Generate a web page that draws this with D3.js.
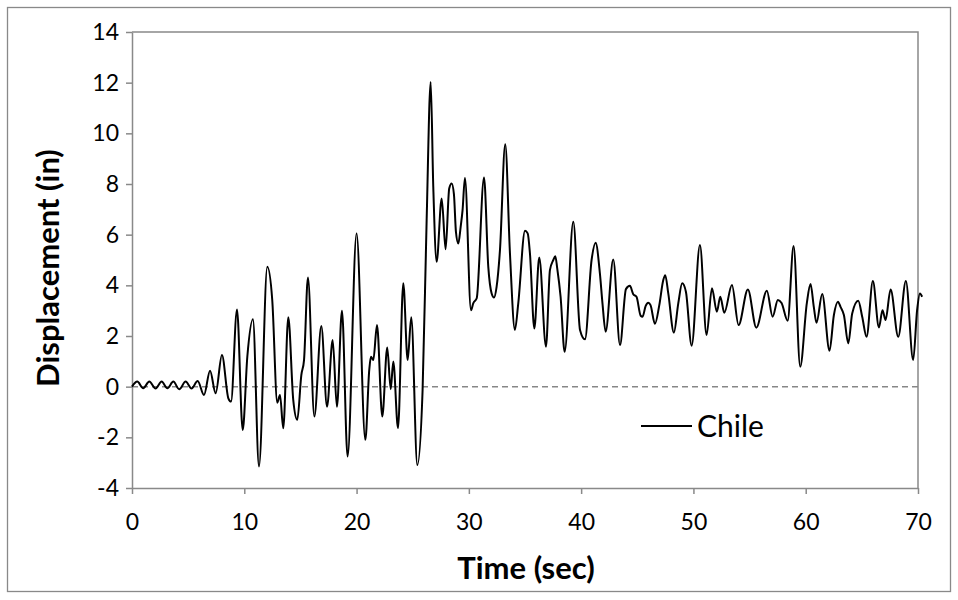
<!DOCTYPE html>
<html><head><meta charset="utf-8">
<script src="https://cdn.jsdelivr.net/npm/d3@7"></script>
<style>body{margin:0;background:#fff}svg{display:block}</style>
</head><body>
<script>
const times = [0,0.47,1.0,1.54,2.1,2.64,3.15,3.68,4.2,4.78,5.3,5.85,6.41,6.95,7.45,8.01,8.58,8.82,9.35,9.86,10.27,10.77,11.31,12.05,12.49,12.94,13.18,13.47,13.92,14.36,14.72,15.08,15.32,15.67,16.24,16.86,17.37,17.87,18.25,18.7,19.2,20.0,20.78,21.13,21.28,21.49,21.82,22.29,22.73,23.04,23.27,23.69,24.16,24.55,24.87,25.41,25.88,26.24,26.6,26.83,27.13,27.58,27.93,28.25,28.47,28.67,28.85,29.06,29.27,29.44,29.65,30.19,30.39,30.7,31.35,31.73,32.03,32.24,32.47,32.77,33.24,33.66,34.1,34.4,35.0,35.24,35.44,35.83,36.27,36.87,37.22,37.52,37.7,37.87,38.17,38.53,39.3,39.9,40.34,40.93,41.29,41.67,41.9,42.18,42.86,43.46,43.99,44.34,44.64,44.93,45.3,45.47,45.74,45.98,46.18,46.57,46.96,47.31,47.49,47.76,48.26,48.65,49.0,49.33,49.84,50.58,51.17,51.65,52.09,52.39,52.75,53.43,54.02,54.85,55.6,56.54,57.05,57.52,57.85,58.39,58.92,59.51,60.1,60.43,60.72,60.96,61.47,62.12,62.51,62.87,63.1,63.4,63.79,64.14,64.68,65.03,65.42,65.98,66.52,66.84,67.11,67.56,68.24,68.92,69.57,69.92,70.17,70.37];
const displacement = [0,0.2,-0.06,0.2,-0.07,0.2,-0.06,0.2,-0.1,0.2,-0.07,0.22,-0.33,0.63,-0.26,1.25,-0.46,-0.59,3.05,-1.71,1.18,2.66,-3.15,4.73,3.42,-0.63,-0.33,-1.64,2.74,-0.52,-1.31,0.46,1.05,4.31,-1.18,2.39,-0.79,1.84,-0.79,3.0,-2.76,6.05,-2.1,0.66,1.18,1.05,2.43,-1.18,1.55,-0.1,0.99,-1.64,4.08,1.05,2.74,-3.09,-0.13,6.57,12.03,7.9,4.93,7.43,5.42,7.82,8.02,7.6,6.11,5.65,6.31,6.97,8.24,3.02,3.29,3.49,8.26,4.73,3.68,3.52,3.94,5.39,9.57,5.26,2.24,3.29,6.15,6.05,5.26,2.3,5.1,1.58,4.6,5.0,5.15,4.67,3.55,1.38,6.51,2.24,1.87,5.0,5.68,4.47,3.29,2.17,5.02,1.64,3.85,3.98,3.65,3.55,2.8,2.76,3.18,3.31,3.22,2.48,3.22,4.2,4.4,3.68,2.13,3.29,4.08,3.75,1.62,5.59,2.04,3.88,2.96,3.55,2.92,4.01,2.43,3.84,2.33,3.79,2.76,3.42,3.3,2.6,5.55,0.79,3.3,4.05,3.15,2.52,3.66,1.42,2.83,3.35,3.15,2.83,1.71,2.89,3.39,2.76,1.97,4.17,2.34,3.02,2.63,3.84,1.97,4.17,1.05,3.02,3.68,3.55];
const xTicks = [0,10,20,30,40,50,60,70];
const yTicks = [-4,-2,0,2,4,6,8,10,12,14];
const seriesName = "Chile";
const xTitle = "Time (sec)";
const yTitle = "Displacement (in)";

const W = 958, H = 600;
const svg = d3.select("body").append("svg").attr("width", W).attr("height", H);
const font = "Lato, 'Open Sans', sans-serif";
const gray = "#898989";

svg.append("rect").attr("x", 7.5).attr("y", 7.5).attr("width", 943).attr("height", 584)
  .attr("fill", "#fff").attr("stroke", gray).attr("stroke-width", 1.3);

const x = d3.scaleLinear().domain([0, 70]).range([132, 918]);
const y = d3.scaleLinear().domain([-4, 14]).range([488, 32]);

svg.append("path").attr("d", `M${x(0)},${y(14)}H${x(70)}V${y(-4)}`)
  .attr("fill", "none").attr("stroke", gray).attr("stroke-width", 1.5);

svg.append("line").attr("x1", x(0)).attr("x2", x(70)).attr("y1", y(0)).attr("y2", y(0))
  .attr("stroke", "#878787").attr("stroke-width", 1.5).attr("stroke-dasharray", "6,4");

const fmt = d => String(d);
const gx = svg.append("g").attr("transform", `translate(0,${y(-4)})`)
  .call(d3.axisBottom(x).tickValues(xTicks).tickFormat(fmt).tickSize(6).tickSizeOuter(0).tickPadding(20));
const gy = svg.append("g").attr("transform", `translate(${x(0)},0)`)
  .call(d3.axisLeft(y).tickValues(yTicks).tickFormat(fmt).tickSize(6).tickSizeOuter(0).tickPadding(7));
[gx, gy].forEach(g => {
  g.selectAll("path.domain").attr("stroke", gray).attr("stroke-width", 1.5);
  g.selectAll(".tick line").attr("stroke", gray).attr("stroke-width", 1.5);
  g.selectAll(".tick text").attr("font-family", font).attr("font-size", 23).attr("fill", "#000");
});

const data = times.map((t, i) => ({t, v: displacement[i]}));
const line = d3.line().x(d => x(d.t)).y(d => y(d.v)).curve(d3.curveMonotoneX);
svg.append("path").datum(data).attr("d", line)
  .attr("fill", "none").attr("stroke", "#000").attr("stroke-width", 2).attr("stroke-linejoin", "round");

svg.append("text").attr("x", 526).attr("y", 579).attr("text-anchor", "middle")
  .attr("font-family", font).attr("font-weight", "bold").attr("font-size", 31).text(xTitle);
svg.append("text").attr("transform", "translate(59,268) rotate(-90)").attr("text-anchor", "middle")
  .attr("font-family", font).attr("font-weight", "bold").attr("font-size", 31).text(yTitle);

svg.append("line").attr("x1", 641).attr("x2", 692).attr("y1", 426).attr("y2", 426)
  .attr("stroke", "#000").attr("stroke-width", 2);
svg.append("text").attr("x", 697).attr("y", 437).attr("font-family", font).attr("font-size", 30)
  .attr("fill", "#000").text(seriesName);
</script>
</body></html>
